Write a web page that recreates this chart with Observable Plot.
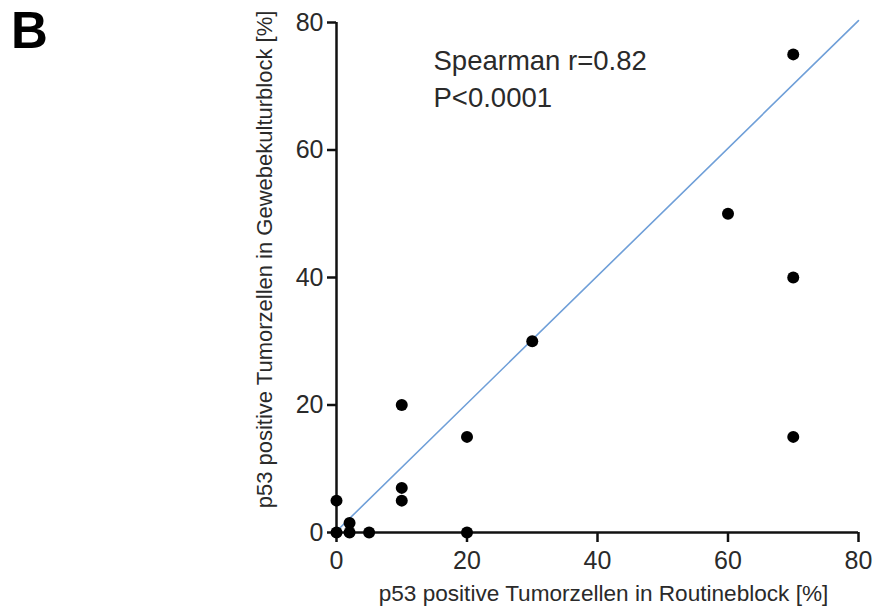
<!DOCTYPE html>
<html>
<head>
<meta charset="utf-8">
<script src="https://cdn.jsdelivr.net/npm/d3@7"></script>
<script src="https://cdn.jsdelivr.net/npm/@observablehq/plot@0.6"></script>
<style>
  html, body { margin: 0; padding: 0; background: #fff; }
  #wrap { position: relative; width: 877px; height: 610px; }
  #panel { position: absolute; left: 11px; top: 1px; font: bold 51px "Liberation Sans", Arial, sans-serif; color: #000; }
</style>
</head>
<body>
<div id="wrap"><div id="panel">B</div><div id="chart"></div></div>
<script>
// Data: p53 positive tumour cells (%) — routine block (x) vs tissue culture block (y)
const routine = [0, 0, 2, 2, 5, 10, 10, 10, 20, 20, 30, 60, 70, 70, 70];
const culture = [5, 0, 1.5, 0, 0, 20, 7, 5, 15, 0, 30, 50, 75, 40, 15];
// Fitted line endpoints
const fitX = [0, 80];
const fitY = [0.2, 80.3];
const ticks = [0, 20, 40, 60, 80];
const xTitle = "p53 positive Tumorzellen in Routineblock [%]";
const yTitle = "p53 positive Tumorzellen in Gewebekulturblock [%]";
const annotation = "Spearman r=0.82\nP<0.0001";

const points = routine.map((x, i) => ({x, y: culture[i]}));
const fit = fitX.map((x, i) => ({x, y: fitY[i]}));

const font = '"Liberation Sans", Arial, Helvetica, sans-serif';

const chart = Plot.plot({
  width: 877,
  height: 610,
  marginLeft: 336,
  marginRight: 19,
  marginTop: 22,
  marginBottom: 78,
  style: {fontFamily: font, background: "transparent", color: "#222"},
  x: {domain: [0, 80]},
  y: {domain: [0, 80]},
  marks: [
    Plot.axisX(ticks, {tickSize: 10, tickPadding: 9, fontSize: 25, strokeWidth: 2.5, stroke: "#111", fill: "#2a2a2a", label: null}),
    Plot.axisY(ticks, {tickSize: 9, tickPadding: 4, fontSize: 25, strokeWidth: 2.5, stroke: "#111", fill: "#2a2a2a", label: null}),
    Plot.ruleY([0], {x1: ticks[0], x2: ticks[ticks.length - 1], stroke: "#111", strokeWidth: 2.5}),
    Plot.ruleX([0], {y1: ticks[0], y2: ticks[ticks.length - 1], stroke: "#111", strokeWidth: 2.5}),
    Plot.line(fit, {x: "x", y: "y", stroke: "#6f9fd8", strokeWidth: 1.6}),
    Plot.dot(points, {x: "x", y: "y", r: 6, fill: "#000", stroke: "none"}),
    Plot.text([xTitle], {frameAnchor: "bottom", dx: 6, dy: 68, fontSize: 22.6, fill: "#2a2a2a", text: d => d}),
    Plot.text([yTitle], {frameAnchor: "left", textAnchor: "middle", dx: -72, dy: -18, rotate: -90, fontSize: 22, fill: "#2a2a2a", text: d => d}),
    Plot.text([annotation], {frameAnchor: "top-left", dx: 97, dy: 22, textAnchor: "start", lineAnchor: "top", lineHeight: 1.32, fontSize: 27.5, fill: "#2a2a2a", text: d => d})
  ]
});
document.getElementById("chart").appendChild(chart);
</script>
</body>
</html>
